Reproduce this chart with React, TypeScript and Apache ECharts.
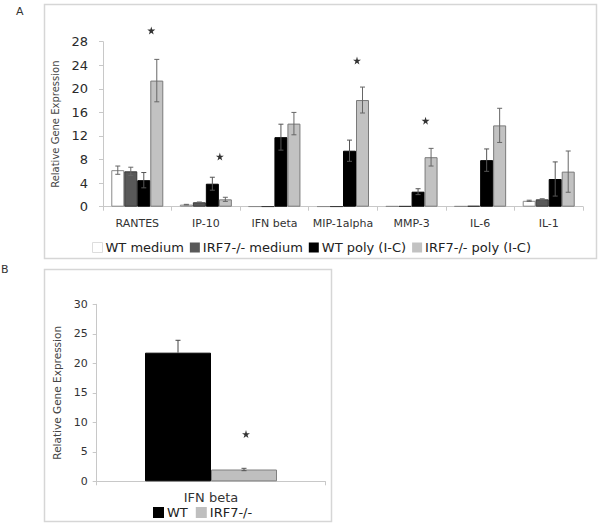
import React, { useEffect, useRef } from "react";
import * as echarts from "echarts";

// ---- Panel A data ----
const categoriesA = ["RANTES", "IP-10", "IFN beta", "MIP-1alpha", "MMP-3", "IL-6", "IL-1"];
const seriesNamesA = ["WT medium", "IRF7-/- medium", "WT poly (I-C)", "IRF7-/- poly (I-C)"];
const wtMedium = [6.2, 0.35, 0.05, 0.05, 0.1, 0.1, 1.0];
const wtMediumErr = [0.7, 0.05, 0, 0, 0, 0, 0.1];
const irf7Medium = [6.0, 0.75, 0.05, 0.05, 0.1, 0.15, 1.25];
const irf7MediumErr = [0.7, 0.05, 0, 0, 0, 0, 0.1];
const wtPoly = [4.5, 3.9, 11.8, 9.5, 2.55, 7.9, 4.7];
const wtPolyErr = [1.3, 1.1, 2.2, 1.8, 0.5, 1.9, 2.9];
const irf7Poly = [21.4, 1.25, 14.1, 18.1, 8.4, 13.8, 5.95];
const irf7PolyErr = [3.6, 0.35, 1.9, 2.2, 1.5, 2.9, 3.5];
const starIndexA = [0, 1, 3, 4];
const starValueA = [29.9, 8.5, 24.8, 14.6];

// ---- Panel B data ----
const categoriesB = ["IFN beta"];
const seriesNamesB = ["WT", "IRF7-/-"];
const wtB = [21.8];
const wtBErr = [2.1];
const irf7B = [2.0];
const irf7BErr = [0.2];
const starIndexB = [0];
const starValueB = [8.0];

const FONT = "DejaVu Sans";
const STAR =
  "path://M50,0 L61,35 L98,35 L68,57 L79,91 L50,70 L21,91 L32,57 L2,35 L39,35 Z";

function errorSeries(
  values: number[],
  errs: number[],
  offset: number,
  axisIndex: number,
  color: string,
  cap: number,
  upOnly = false
) {
  return {
    type: "custom",
    name: "err" + axisIndex + "_" + offset,
    xAxisIndex: axisIndex,
    yAxisIndex: axisIndex,
    z: 5,
    silent: true,
    encode: { x: 0, y: 1 },
    data: values.map((v, i) => [i, v, errs[i]]),
    renderItem: (params: any, api: any) => {
      const i = api.value(0);
      const v = api.value(1);
      const e = api.value(2);
      if (!e) return { type: "group", children: [] };
      const x = api.coord([i, v])[0] + offset;
      const yTop = api.coord([i, v + e])[1];
      const yBot = upOnly ? api.coord([i, v])[1] : api.coord([i, v - e])[1];
      const style = { stroke: color, lineWidth: 1 };
      const children: any[] = [
        { type: "line", shape: { x1: x, y1: yTop, x2: x, y2: yBot }, style },
        { type: "line", shape: { x1: x - cap, y1: yTop, x2: x + cap, y2: yTop }, style },
      ];
      if (!upOnly)
        children.push({ type: "line", shape: { x1: x - cap, y1: yBot, x2: x + cap, y2: yBot }, style });
      return { type: "group", children };
    },
  };
}

export default function App() {
  const ref = useRef<HTMLDivElement>(null);
  useEffect(() => {
    if (!ref.current) return;
    const chart = echarts.init(ref.current, null, { renderer: "svg" });
    const axisLabelColor = "#333";
    const lineColor = "#c8c8c8";
    const barW = 13;
    const offs = [-19.5, -6.5, 6.5, 19.5];
    const legendItem = (name: string, border: boolean) => ({
      name,
      itemStyle: border ? { borderColor: "#dddddd", borderWidth: 1 } : { borderWidth: 0 },
    });
    const option: any = {
      animation: false,
      backgroundColor: "#fff",
      textStyle: { fontFamily: FONT },
      graphic: [
        {
          type: "rect",
          shape: { x: 44.5, y: 4.5, width: 552, height: 254 },
          style: { fill: "none", stroke: "#d6d6d6", lineWidth: 1.5 },
        },
        {
          type: "rect",
          shape: { x: 44.5, y: 269.5, width: 287, height: 252 },
          style: { fill: "none", stroke: "#d6d6d6", lineWidth: 1.5 },
        },
        { type: "text", left: 16, top: 6, style: { text: "A", fontSize: 11, fill: "#333", fontFamily: FONT } },
        { type: "text", left: 1, top: 264, style: { text: "B", fontSize: 11, fill: "#333", fontFamily: FONT } },
      ],
      grid: [
        { left: 103, top: 41.7, width: 480, height: 165 },
        { left: 96.7, top: 304.3, width: 228.6, height: 177 },
      ],
      legend: [
        {
          data: [
            legendItem(seriesNamesA[0], true),
            legendItem(seriesNamesA[1], false),
            legendItem(seriesNamesA[2], false),
            legendItem(seriesNamesA[3], false),
          ],
          left: 92,
          top: 241,
          itemWidth: 10,
          itemHeight: 10,
          itemGap: 6,
          icon: "rect",
          padding: 0,
          textStyle: { fontSize: 13, color: "#222", fontFamily: FONT, padding: [0, 0, 0, -2] },
        },
        {
          data: [legendItem(seriesNamesB[0], false), legendItem(seriesNamesB[1], false)],
          left: 153,
          top: 506,
          itemWidth: 11,
          itemHeight: 11,
          itemGap: 8,
          icon: "rect",
          padding: 0,
          textStyle: { fontSize: 13, color: "#222", fontFamily: FONT, padding: [0, 0, 0, -2] },
        },
      ],
      xAxis: [
        {
          type: "category",
          gridIndex: 0,
          data: categoriesA,
          axisLine: { lineStyle: { color: lineColor } },
          axisTick: { show: true, length: 4, lineStyle: { color: lineColor } },
          axisLabel: { fontSize: 11, color: axisLabelColor, margin: 11, interval: 0 },
        },
        {
          type: "category",
          gridIndex: 1,
          data: categoriesB,
          axisLine: { lineStyle: { color: lineColor } },
          axisTick: { show: true, length: 4, lineStyle: { color: lineColor } },
          axisLabel: { fontSize: 13, color: axisLabelColor, margin: 10 },
        },
      ],
      yAxis: [
        {
          type: "value",
          gridIndex: 0,
          min: 0,
          max: 28,
          interval: 4,
          axisLine: { show: true, lineStyle: { color: lineColor } },
          axisTick: { show: true, length: 4, lineStyle: { color: lineColor } },
          splitLine: { show: false },
          axisLabel: { fontSize: 13, color: "#2a2a2a", margin: 15 },
          name: "Relative Gene Expression",
          nameLocation: "middle",
          nameGap: 42,
          nameTextStyle: { fontSize: 10, color: "#444", fontFamily: FONT },
        },
        {
          type: "value",
          gridIndex: 1,
          min: 0,
          max: 30,
          interval: 5,
          axisLine: { show: true, lineStyle: { color: lineColor } },
          axisTick: { show: true, length: 4, lineStyle: { color: lineColor } },
          splitLine: { show: false },
          axisLabel: { fontSize: 11, color: axisLabelColor, margin: 9 },
          name: "Relative Gene Expression",
          nameLocation: "middle",
          nameGap: 34,
          nameTextStyle: { fontSize: 10.5, color: "#444", fontFamily: FONT },
        },
      ],
      series: [
        {
          type: "bar",
          name: seriesNamesA[0],
          xAxisIndex: 0,
          yAxisIndex: 0,
          data: wtMedium,
          barWidth: barW,
          barGap: "0%",
          itemStyle: { color: "#ffffff", borderColor: "#8a8a8a", borderWidth: 1 },
        },
        {
          type: "bar",
          name: seriesNamesA[1],
          xAxisIndex: 0,
          yAxisIndex: 0,
          data: irf7Medium,
          barWidth: barW,
          barGap: "0%",
          itemStyle: { color: "#595959", borderColor: "#3a3a3a", borderWidth: 1 },
        },
        {
          type: "bar",
          name: seriesNamesA[2],
          xAxisIndex: 0,
          yAxisIndex: 0,
          data: wtPoly,
          barWidth: barW,
          barGap: "0%",
          itemStyle: { color: "#000000", borderColor: "#000000", borderWidth: 1 },
        },
        {
          type: "bar",
          name: seriesNamesA[3],
          xAxisIndex: 0,
          yAxisIndex: 0,
          data: irf7Poly,
          barWidth: barW,
          barGap: "0%",
          itemStyle: { color: "#c2c2c2", borderColor: "#7a7a7a", borderWidth: 1 },
        },
        errorSeries(wtMedium, wtMediumErr, offs[0], 0, "#666", 2.5),
        errorSeries(irf7Medium, irf7MediumErr, offs[1], 0, "#666", 2.5),
        errorSeries(wtPoly, wtPolyErr, offs[2], 0, "#555", 2.5),
        errorSeries(irf7Poly, irf7PolyErr, offs[3], 0, "#666", 2.5),
        {
          type: "scatter",
          name: "starsA",
          xAxisIndex: 0,
          yAxisIndex: 0,
          clip: false,
          silent: true,
          symbol: STAR,
          symbolSize: 8,
          symbolOffset: [14, 0],
          itemStyle: { color: "#000" },
          data: starIndexA.map((c, k) => [c, starValueA[k]]),
        },
        {
          type: "bar",
          name: seriesNamesB[0],
          xAxisIndex: 1,
          yAxisIndex: 1,
          data: wtB,
          barWidth: 66,
          barGap: "0%",
          itemStyle: { color: "#000000", borderColor: "#000", borderWidth: 1 },
        },
        {
          type: "bar",
          name: seriesNamesB[1],
          xAxisIndex: 1,
          yAxisIndex: 1,
          data: irf7B,
          barWidth: 66,
          barGap: "0%",
          itemStyle: { color: "#bfbfbf", borderColor: "#808080", borderWidth: 1 },
        },
        errorSeries(wtB, wtBErr, -33, 1, "#444", 2.5, true),
        errorSeries(irf7B, irf7BErr, 33, 1, "#555", 2.5),
        {
          type: "scatter",
          name: "starsB",
          xAxisIndex: 1,
          yAxisIndex: 1,
          clip: false,
          silent: true,
          symbol: STAR,
          symbolSize: 8,
          symbolOffset: [35, 0],
          itemStyle: { color: "#000" },
          data: starIndexB.map((c, k) => [c, starValueB[k]]),
        },
      ],
    };
    chart.setOption(option);
    return () => chart.dispose();
  }, []);
  return (
    <div
      ref={ref}
      style={{ position: "absolute", left: 0, top: 0, width: 601, height: 532, background: "#fff" }}
    />
  );
}
